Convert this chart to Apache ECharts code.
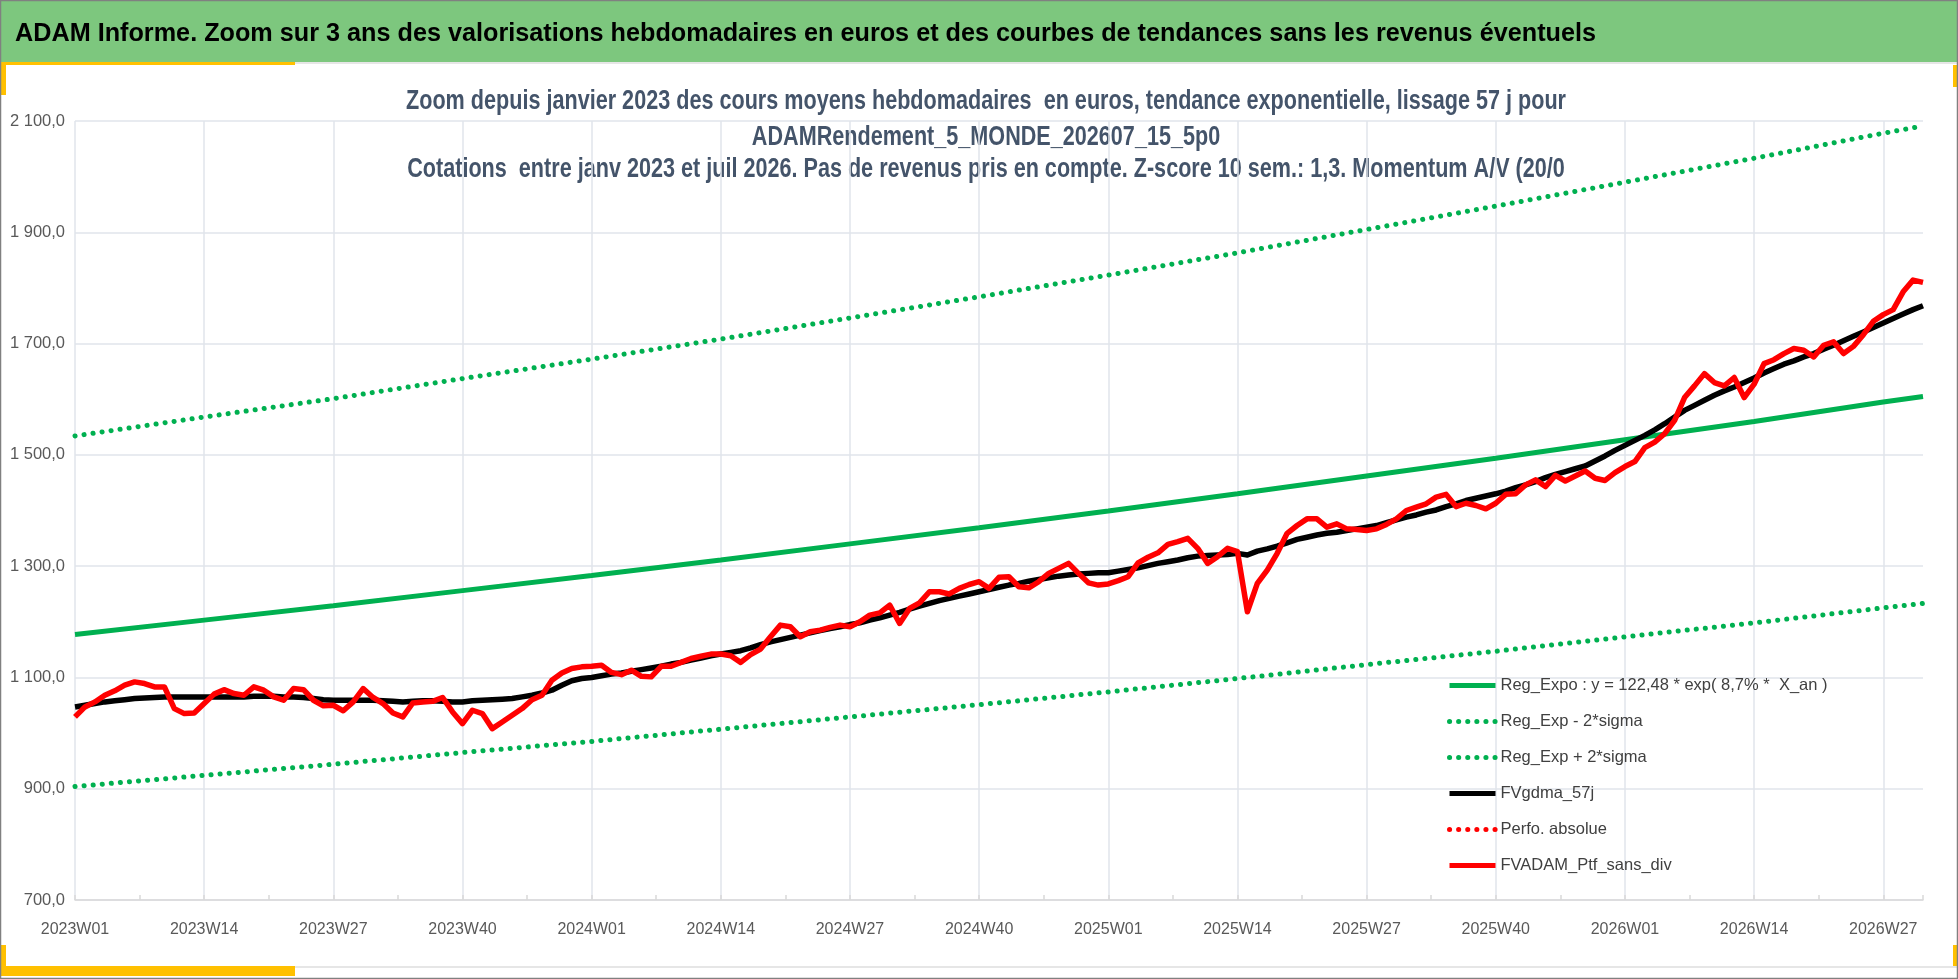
<!DOCTYPE html>
<html>
<head>
<meta charset="utf-8">
<title>ADAM Informe</title>
<script src="https://cdn.jsdelivr.net/npm/echarts@6/dist/echarts.min.js"></script>
<style>
html,body{margin:0;padding:0;background:#fff;}
#main{width:1958px;height:979px;}
</style>
</head>
<body>
<div id="main"></div>
<script>
// week labels 2023W01 .. 2026W31
var weeks = [];
[2023, 2024, 2025, 2026].forEach(function (y) {
	var n = (y == 2026) ? 31 : 52;
	for (var w = 1; w <= n; w++) {
		weeks.push(y + 'W' + (w < 10 ? '0' + w : w));
	}
});

// trend lines read every 13 weeks (+ last week)
var trendIdx = [0, 13, 26, 39, 52, 65, 78, 91, 104, 117, 130, 143, 156, 169, 182, 186];
var regExpo = [1177, 1203, 1229, 1256, 1283, 1311, 1340, 1369, 1399, 1430, 1462, 1494, 1527, 1560, 1595, 1605];
var regLow = [904, 924, 944, 965, 985, 1007, 1029, 1051, 1074, 1098, 1123, 1147, 1173, 1198, 1225, 1233];
var regHigh = [1534, 1568, 1601, 1637, 1672, 1708, 1746, 1784, 1823, 1863, 1905, 1947, 1990, 2033, 2078, 2091];

// moyenne lissée 57j (hebdo)
var gdma = [
	1047, 1050, 1053, 1056, 1058, 1060, 1062, 1063, 1064, 1065, 1065, 1065, 1065,
	1065, 1065, 1065, 1065, 1065, 1066, 1066, 1066, 1065, 1065, 1064, 1062, 1060,
	1059, 1059, 1059, 1059, 1059, 1058, 1057, 1056, 1057, 1058, 1058, 1057, 1056,
	1056, 1058, 1059, 1060, 1061, 1062, 1065, 1068, 1072, 1077, 1086, 1094, 1098,
	1100, 1103, 1106, 1108, 1111, 1114, 1117, 1120, 1124, 1127, 1131, 1135, 1139,
	1142, 1145, 1148, 1153, 1159, 1164, 1168, 1172, 1176, 1180, 1184, 1188, 1191,
	1195, 1198, 1203, 1207, 1212, 1217, 1223, 1228, 1233, 1238, 1242, 1246, 1250,
	1254, 1258, 1262, 1266, 1269, 1273, 1276, 1279, 1282, 1284, 1286, 1287, 1288,
	1288, 1291, 1294, 1297, 1301, 1305, 1308, 1311, 1315, 1318, 1319, 1320, 1321,
	1323, 1320, 1327, 1331, 1336, 1342, 1348, 1352, 1356, 1359, 1361, 1364, 1367,
	1370, 1373, 1378, 1383, 1388, 1392, 1397, 1401, 1407, 1412, 1418, 1422, 1426,
	1430, 1435, 1441, 1446, 1452, 1459, 1465, 1470, 1475, 1480, 1489, 1498, 1508,
	1517, 1526, 1535, 1545, 1556, 1568, 1580, 1589, 1598, 1607, 1615, 1622, 1630,
	1638, 1647, 1655, 1663, 1669, 1676, 1682, 1690, 1697, 1705, 1713, 1721, 1729,
	1737, 1745, 1753, 1761, 1768
];

// portefeuille sans dividendes (hebdo)
var ptf = [
	1029, 1047, 1056, 1068, 1076, 1086, 1092, 1089, 1083, 1083, 1044, 1035, 1036,
	1053, 1070, 1078, 1071, 1068, 1083, 1077, 1065, 1059, 1080, 1078, 1059, 1049,
	1050, 1040, 1056, 1080, 1064, 1053, 1036, 1029, 1054, 1056, 1057, 1064, 1038,
	1017, 1041, 1035, 1008, 1020, 1032, 1044, 1060, 1068, 1095, 1108, 1116, 1119,
	1120, 1122, 1109, 1105, 1113, 1102, 1101, 1120, 1120, 1127, 1134, 1138, 1142,
	1142, 1139, 1127, 1141, 1151, 1173, 1194, 1191, 1173, 1182, 1185, 1190, 1194,
	1191, 1200, 1212, 1216, 1230, 1197, 1224, 1234, 1254, 1254, 1250, 1260, 1267,
	1272, 1260, 1280, 1281, 1263, 1261, 1272, 1287, 1296, 1305, 1287, 1270, 1266,
	1268, 1274, 1281, 1306, 1316, 1324, 1339, 1344, 1350, 1332, 1305, 1317, 1332,
	1326, 1218, 1269, 1293, 1323, 1359, 1373, 1385, 1385, 1370, 1376, 1367, 1366,
	1364, 1367, 1375, 1385, 1400, 1406, 1412, 1424, 1429, 1407, 1413, 1409, 1403,
	1413, 1429, 1430, 1446, 1455, 1443, 1463, 1453, 1462, 1471, 1458, 1454, 1468,
	1479, 1488, 1513, 1523, 1538, 1562, 1603, 1624, 1646, 1630, 1624, 1639, 1603,
	1627, 1664, 1671, 1682, 1691, 1688, 1676, 1697, 1703, 1682, 1695, 1716, 1740,
	1752, 1761, 1793, 1814, 1810
];

var titleText = 'ADAM Informe. Zoom sur 3 ans des valorisations hebdomadaires en euros et des courbes de tendances sans les revenus éventuels';
var subLines = [
	'Zoom depuis janvier 2023 des cours moyens hebdomadaires  en euros, tendance exponentielle, lissage 57 j pour',
	'ADAMRendement_5_MONDE_202607_15_5p0',
	'Cotations  entre janv 2023 et juil 2026. Pas de revenus pris en compte. Z-score 10 sem.: 1,3. Momentum A/V (20/0'
];
var legendNames = ['Reg_Expo : y = 122,48 * exp( 8,7% *  X_an )', 'Reg_Exp - 2*sigma', 'Reg_Exp + 2*sigma',
	'FVgdma_57j', 'Perfo. absolue', 'FVADAM_Ptf_sans_div'];

var FONT = "'Liberation Sans', Arial, sans-serif";
var GREEN = '#00B050';

function pairs(idx, vals) {
	var out = [];
	for (var i = 0; i < idx.length; i++) out.push([idx[i], vals[i]]);
	return out;
}

function fmtY(v) {
	var s = String(Math.round(v));
	if (s.length > 3) s = s.slice(0, s.length - 3) + ' ' + s.slice(s.length - 3);
	return s + ',0';
}

// l'original est en Calibri (plus étroit) : on resserre horizontalement
var ctx = document.createElement('canvas').getContext('2d');
function textW(txt, size) {
	ctx.font = 'bold ' + size + 'px ' + FONT;
	return ctx.measureText(txt).width;
}
var titleScale = 1581 / textW(titleText, 26);
var subScale = 1160 / textW(subLines[0], 27);

var myChart = echarts.init(document.getElementById('main'));

var graphics = [
	{ type: 'rect', shape: { x: 0, y: 0, width: 1958, height: 62 }, style: { fill: '#7DC77E' } },
	{ type: 'line', shape: { x1: 0, y1: 63, x2: 1958, y2: 63 }, style: { stroke: '#E6E6E6', lineWidth: 2 } },
	{ type: 'rect', shape: { x: 0, y: 62, width: 295, height: 3 }, style: { fill: '#FFC000' } },
	{ type: 'rect', shape: { x: 0, y: 65, width: 6, height: 30 }, style: { fill: '#FFC000' } },
	{ type: 'rect', shape: { x: 1953, y: 65, width: 4, height: 22 }, style: { fill: '#FFC000' } },
	{ type: 'rect', shape: { x: 0, y: 945, width: 6, height: 31 }, style: { fill: '#FFC000' } },
	{ type: 'rect', shape: { x: 0, y: 966, width: 295, height: 10 }, style: { fill: '#FFC000' } },
	{ type: 'rect', shape: { x: 1953, y: 945, width: 4, height: 22 }, style: { fill: '#FFC000' } },
	{ type: 'line', shape: { x1: 295, y1: 967, x2: 1958, y2: 967 }, style: { stroke: '#E6E6E6', lineWidth: 2 } },
	{ type: 'rect', shape: { x: 0.5, y: 0.5, width: 1957, height: 978 }, style: { fill: 'none', stroke: '#808080', lineWidth: 1.5 } },
	{
		type: 'text', x: 15, y: 34, scaleX: titleScale,
		style: {
			text: titleText, fontSize: 26, fontWeight: 'bold', fontFamily: FONT, fill: '#000000',
			align: 'left', verticalAlign: 'middle'
		}
	}
];
var subY = [102, 138, 170];
subLines.forEach(function (t, i) {
	graphics.push({
		type: 'text', x: 986, y: subY[i], scaleX: subScale,
		style: {
			text: t, fontSize: 27, fontWeight: 'bold', fontFamily: FONT, fill: '#44546A',
			align: 'center', verticalAlign: 'middle'
		}
	});
});

var option = {
	backgroundColor: '#ffffff',
	animation: false,
	textStyle: { fontFamily: FONT },
	grid: { left: 75, right: 35, top: 121, bottom: 79, containLabel: false },
	legend: {
		orient: 'vertical',
		left: 1442,
		top: 672,
		itemWidth: 46,
		itemHeight: 14,
		itemGap: 19,
		itemStyle: { opacity: 0 },
		lineStyle: { width: 5 },
		textStyle: { fontSize: 16.5, color: '#404040', fontFamily: FONT },
		data: legendNames
	},
	xAxis: [{
		type: 'category',
		data: weeks,
		boundaryGap: false,
		axisLine: { lineStyle: { color: '#D9D9D9', width: 1.5 } },
		axisTick: { show: false },
		axisLabel: {
			interval: function (i) { return i % 13 === 0; },
			color: '#595959',
			fontSize: 16,
			margin: 22,
			fontFamily: FONT
		},
		splitLine: {
			show: true,
			interval: function (i) { return i % 13 === 0; },
			lineStyle: { color: '#E1E4EB', width: 1.5 }
		}
	}, {
		// petites graduations à mi-chemin
		type: 'value',
		position: 'bottom',
		min: 0,
		max: 186,
		interval: 6.5,
		axisLine: { show: false },
		axisLabel: { show: false },
		splitLine: { show: false },
		axisTick: { show: true, inside: true, length: 5, lineStyle: { color: '#D9D9D9', width: 1.5 } }
	}],
	yAxis: {
		type: 'value',
		min: 700,
		max: 2100,
		interval: 200,
		axisLine: { show: false },
		axisTick: { show: false },
		axisLabel: { formatter: fmtY, color: '#595959', fontSize: 16.5, margin: 10, fontFamily: FONT },
		splitLine: { lineStyle: { color: '#E1E4EB', width: 1.5 } }
	},
	series: [
		{
			name: legendNames[0],
			type: 'line',
			data: pairs(trendIdx, regExpo),
			showSymbol: false, symbol: 'none',
			lineStyle: { color: GREEN, width: 5 },
			itemStyle: { color: GREEN }
		},
		{
			name: legendNames[1],
			type: 'line',
			data: pairs(trendIdx, regLow),
			showSymbol: false, symbol: 'none',
			lineStyle: { color: GREEN, width: 5, type: [0.1, 9], cap: 'round' },
			itemStyle: { color: GREEN }
		},
		{
			name: legendNames[2],
			type: 'line',
			data: pairs(trendIdx, regHigh),
			showSymbol: false, symbol: 'none',
			lineStyle: { color: GREEN, width: 5, type: [0.1, 9], cap: 'round' },
			itemStyle: { color: GREEN }
		},
		{
			name: legendNames[3],
			type: 'line',
			data: gdma,
			showSymbol: false, symbol: 'none',
			lineStyle: { color: '#000000', width: 5.5, join: 'round' },
			itemStyle: { color: '#000000' }
		},
		{
			name: legendNames[4],
			type: 'line',
			data: [],
			showSymbol: false, symbol: 'none',
			lineStyle: { color: '#FF0000', width: 5, type: [0.1, 9], cap: 'round' },
			itemStyle: { color: '#FF0000' }
		},
		{
			name: legendNames[5],
			type: 'line',
			data: ptf,
			showSymbol: false, symbol: 'none',
			lineStyle: { color: '#FF0000', width: 5.5, join: 'round' },
			itemStyle: { color: '#FF0000' }
		}
	],
	graphic: graphics
};

myChart.setOption(option);
window.onresize = myChart.resize;
</script>
</body>
</html>
